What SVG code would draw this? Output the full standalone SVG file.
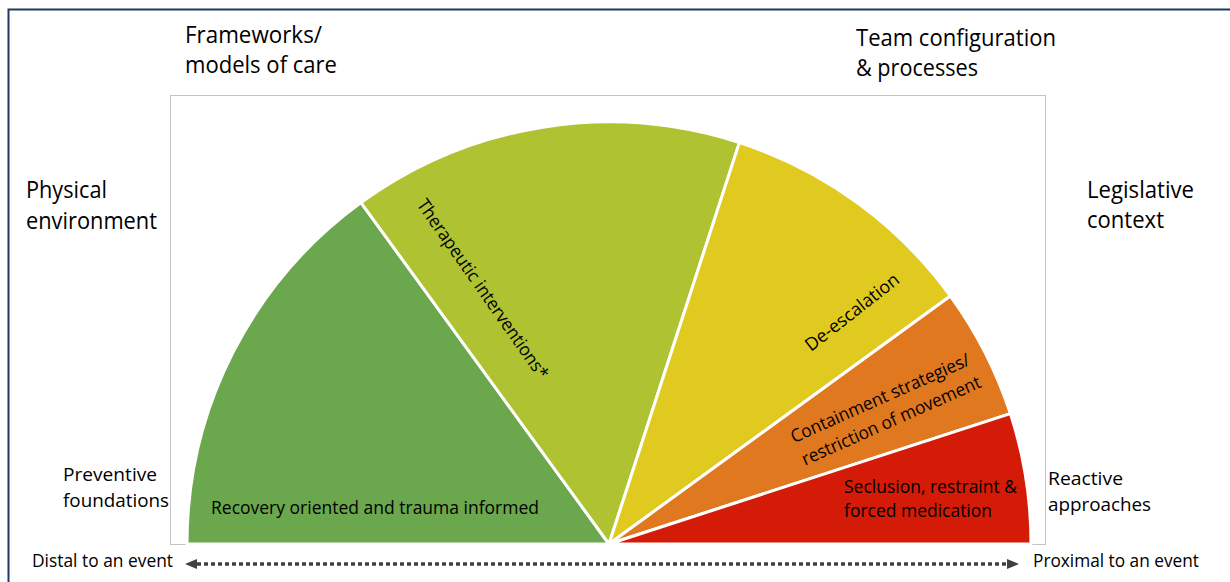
<svg xmlns="http://www.w3.org/2000/svg" width="1230" height="582" viewBox="0 0 1230 582">
  <defs>
    <style>
      .lbl { font-family: "Open Sans", "Noto Sans", "Liberation Sans", sans-serif; fill: #000; }
      .big { font-size: 23px; }
      .mid { font-size: 19px; }
      .sm { font-size: 18px; }
      .slice { stroke: #ffffff; stroke-width: 3; stroke-linejoin: round; }
    </style>
    <marker id="arrowHead" viewBox="0 0 12 10" refX="0" refY="5" markerWidth="12" markerHeight="10" markerUnits="userSpaceOnUse" orient="auto-start-reverse">
      <path d="M0,0 L12,5 L0,10 z" fill="#404040"/>
    </marker>
  </defs>

  <rect x="0" y="0" width="1230" height="582" fill="#ffffff"/>
  <!-- outer frame -->
  <rect x="8.5" y="9.5" width="1260" height="620" fill="none" stroke="#1F3A5C" stroke-width="2"/>
  <!-- chart plot area -->
  <rect x="170.5" y="95.5" width="875" height="449" fill="#ffffff" stroke="#C4C4C4" stroke-width="1"/>

  <!-- half-circle wedges, centre (609,544), radius 422 -->
  <g id="wedge-recovery">
    <path class="slice" d="M609,544 L187,544 A422,422 0 0 1 361,202.6 Z" fill="#6BA74D"/>
    <text class="lbl mid" x="211" y="514" textLength="328" lengthAdjust="spacingAndGlyphs">Recovery oriented and trauma informed</text>
  </g>
  <g id="wedge-therapeutic">
    <path class="slice" d="M609,544 L361,202.6 A422,422 0 0 1 739.4,142.6 Z" fill="#AEC232"/>
    <text class="lbl sm" x="0" y="0" dy="0.35em" text-anchor="middle" textLength="215" lengthAdjust="spacingAndGlyphs" transform="translate(483,289) rotate(55)">Therapeutic interventions*</text>
  </g>
  <g id="wedge-deescalation">
    <path class="slice" d="M609,544 L739.4,142.6 A422,422 0 0 1 950.4,296 Z" fill="#E1CA1F"/>
    <text class="lbl sm" x="0" y="0" dy="0.35em" text-anchor="middle" textLength="114" lengthAdjust="spacingAndGlyphs" transform="translate(852,312) rotate(-38)">De-escalation</text>
  </g>
  <g id="wedge-containment">
    <path class="slice" d="M609,544 L950.4,296 A422,422 0 0 1 1010.4,413.6 Z" fill="#E07820"/>
    <g transform="translate(880,398) rotate(-24)">
      <text class="lbl sm" x="0" y="0" dy="0.35em" text-anchor="middle" textLength="194" lengthAdjust="spacingAndGlyphs">Containment strategies/</text>
      <text class="lbl sm" x="0" y="0" dy="0.35em" text-anchor="middle" textLength="194" lengthAdjust="spacingAndGlyphs" transform="translate(1,25)">restriction of movement</text>
    </g>
  </g>
  <g id="wedge-seclusion">
    <path class="slice" d="M609,544 L1010.4,413.6 A422,422 0 0 1 1031,544 Z" fill="#D41B07"/>
    <text class="lbl mid" x="844" y="493" textLength="173" lengthAdjust="spacingAndGlyphs">Seclusion, restraint &amp;</text>
    <text class="lbl mid" x="844" y="517" textLength="148" lengthAdjust="spacingAndGlyphs">forced medication</text>
  </g>

  <!-- surrounding context labels -->
  <g id="label-frameworks">
    <text class="lbl big" x="185" y="43" textLength="137" lengthAdjust="spacingAndGlyphs">Frameworks/</text>
    <text class="lbl big" x="185" y="73" textLength="152" lengthAdjust="spacingAndGlyphs">models of care</text>
  </g>
  <g id="label-team">
    <text class="lbl big" x="856" y="46" textLength="200" lengthAdjust="spacingAndGlyphs">Team configuration</text>
    <text class="lbl big" x="856" y="76" textLength="122" lengthAdjust="spacingAndGlyphs">&amp; processes</text>
  </g>
  <g id="label-physical">
    <text class="lbl big" x="26" y="198" textLength="81" lengthAdjust="spacingAndGlyphs">Physical</text>
    <text class="lbl big" x="26" y="229" textLength="131" lengthAdjust="spacingAndGlyphs">environment</text>
  </g>
  <g id="label-legislative">
    <text class="lbl big" x="1087" y="198" textLength="107" lengthAdjust="spacingAndGlyphs">Legislative</text>
    <text class="lbl big" x="1087" y="228" textLength="77" lengthAdjust="spacingAndGlyphs">context</text>
  </g>
  <g id="label-preventive">
    <text class="lbl mid" x="63" y="481" textLength="94" lengthAdjust="spacingAndGlyphs">Preventive</text>
    <text class="lbl mid" x="63" y="507" textLength="106" lengthAdjust="spacingAndGlyphs">foundations</text>
  </g>
  <g id="label-reactive">
    <text class="lbl mid" x="1048" y="485" textLength="75" lengthAdjust="spacingAndGlyphs">Reactive</text>
    <text class="lbl mid" x="1048" y="511" textLength="103" lengthAdjust="spacingAndGlyphs">approaches</text>
  </g>
  <g id="label-distal">
    <text class="lbl sm" x="32" y="567" textLength="141" lengthAdjust="spacingAndGlyphs">Distal to an event</text>
  </g>
  <g id="label-proximal">
    <text class="lbl sm" x="1033" y="567" textLength="166" lengthAdjust="spacingAndGlyphs">Proximal to an event</text>
  </g>

  <!-- time axis connector -->
  <g id="connectors">
    <line x1="197" y1="564" x2="1007" y2="564" stroke="#404040" stroke-width="3.5" stroke-dasharray="4 3" marker-start="url(#arrowHead)" marker-end="url(#arrowHead)"/>
  </g>
</svg>
